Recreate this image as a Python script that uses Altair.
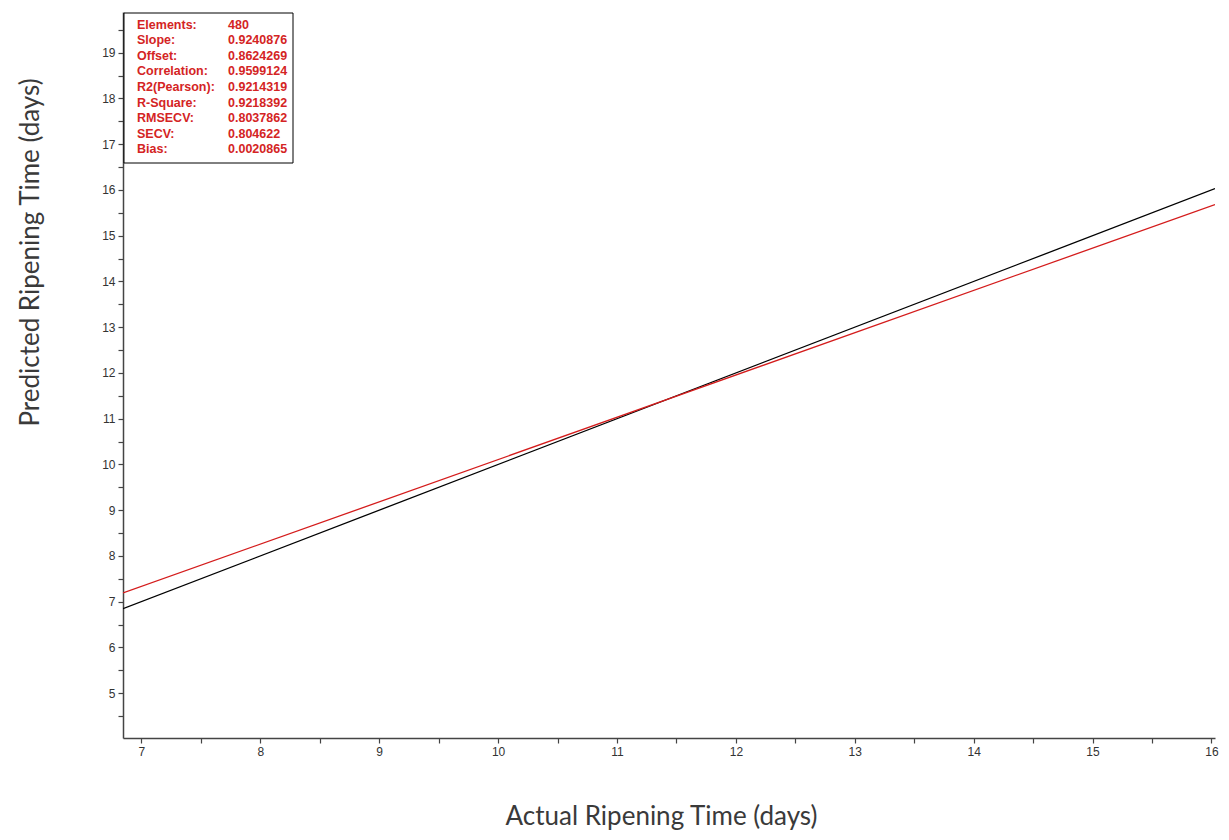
import altair as alt
import pandas as pd

# Reference lines
line_name = ["Ideal", "Ideal", "Fit", "Fit"]
line_x = [6.845, 16.03, 6.845, 16.03]
line_y = [6.845, 16.03, 7.19, 15.68]

# Statistics box
stat_labels = ["Elements:", "Slope:", "Offset:", "Correlation:", "R2(Pearson):",
               "R-Square:", "RMSECV:", "SECV:", "Bias:"]
stat_values = ["480", "0.9240876", "0.8624269", "0.9599124", "0.9214319",
               "0.9218392", "0.8037862", "0.804622", "0.0020865"]

x_ticks = [v / 2 for v in range(14, 33)]
y_ticks = [v / 2 for v in range(9, 40)]

X_DOMAIN = [6.845, 16.03]
Y_DOMAIN = [4.02, 19.89]

lines = pd.DataFrame({"name": line_name, "x": line_x, "y": line_y})
stats = pd.DataFrame({"label": stat_labels, "value": stat_values,
                      "idx": list(range(len(stat_labels)))})

label_expr = "datum.value % 1 == 0 ? format(datum.value, 'd') : ''"

x_enc = alt.X("x:Q", scale=alt.Scale(domain=X_DOMAIN, nice=False, zero=False),
              axis=alt.Axis(values=x_ticks, labelExpr=label_expr, grid=False,
                            title="Actual Ripening Time (days)",
                            titleX=538, titleY=78, titleAlign="center",
                            titleBaseline="middle", titleAngle=0))
y_enc = alt.Y("y:Q", scale=alt.Scale(domain=Y_DOMAIN, nice=False, zero=False),
              axis=alt.Axis(values=y_ticks, labelExpr=label_expr, grid=False,
                            title="Predicted Ripening Time (days)",
                            titleX=-93, titleY=240, titleAlign="center",
                            titleBaseline="middle", titleAngle=-90))

line_chart = alt.Chart(lines).mark_line(strokeWidth=1.3, clip=True).encode(
    x=x_enc, y=y_enc,
    color=alt.Color("name:N", scale=alt.Scale(domain=["Ideal", "Fit"],
                                              range=["#000000", "#d41c1c"]),
                    legend=None),
    detail="name:N",
)

box = alt.Chart(pd.DataFrame({"a": [0]})).mark_rect(
    fill="white", stroke="black", strokeWidth=1
).encode(x=alt.value(1), x2=alt.value(170), y=alt.value(1), y2=alt.value(151))

stat_base = alt.Chart(stats).transform_calculate(ypix="12.5 + datum.idx * 15.6")

stat_lab = stat_base.mark_text(
    align="left", baseline="middle", font="Liberation Sans", fontSize=12.5,
    fontWeight="bold", color="#d42424"
).encode(x=alt.value(14), y=alt.Y("ypix:Q", scale=None, axis=None), text="label:N")

stat_val = stat_base.mark_text(
    align="left", baseline="middle", font="Liberation Sans", fontSize=12.5,
    fontWeight="bold", color="#d42424"
).encode(x=alt.value(105), y=alt.Y("ypix:Q", scale=None, axis=None), text="value:N")

chart = alt.layer(line_chart, box, stat_lab, stat_val).properties(
    width=1092, height=726,
    autosize=alt.AutoSizeParams(type="none"),
    padding={"left": 115, "top": 4, "right": 6, "bottom": 92},
).configure_view(stroke=None).configure_axis(
    domainColor="#444444", domainWidth=1.5, tickColor="#444444", tickWidth=1.2,
    tickSize=5, labelFont="Liberation Sans", labelFontSize=12, labelColor="#333333",
    labelPadding=3, titleFont="Lato", titleFontSize=26, titleFontWeight="normal",
    titleColor="#3a3a3a",
)

chart.save("out.html", embed_options={"renderer": "svg", "actions": False})
